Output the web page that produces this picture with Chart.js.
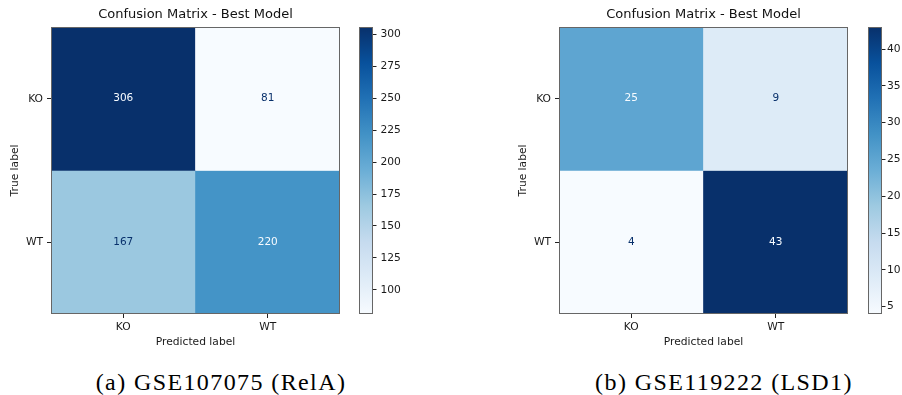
<!DOCTYPE html>
<html>
<head>
<meta charset="utf-8">
<script src="https://cdn.jsdelivr.net/npm/chart.js@4/dist/chart.umd.min.js"></script>
<style>
  body { margin: 0; background: #fff; }
  #wrap { position: relative; width: 902px; height: 395px; overflow: hidden; }
  canvas { position: absolute; top: 0; }
  .cap { position: absolute; top: 369px; font-family: "Liberation Serif", serif; font-size: 24px; letter-spacing: 1.4px; color: #000; white-space: nowrap; transform: translateX(-50%); }
</style>
</head>
<body>
<div id="wrap">
  <canvas id="cmA" width="345" height="355" style="left:0px"></canvas>
  <canvas id="cbA" width="52" height="355" style="left:355px"></canvas>
  <canvas id="cmB" width="345" height="355" style="left:508px"></canvas>
  <canvas id="cbB" width="38" height="355" style="left:864px"></canvas>
  <div class="cap" style="left:221px">(a) GSE107075 (RelA)</div>
  <div class="cap" style="left:724px">(b) GSE119222 (LSD1)</div>
</div>
<script>
// DATA
const trueLabels = ['KO', 'WT'];
const predLabels = ['KO', 'WT'];
const countsA = [[306, 81], [167, 220]];
const countsB = [[25, 9], [4, 43]];
const cbTicksA = [100, 125, 150, 175, 200, 225, 250, 275, 300];
const cbTicksB = [5, 10, 15, 20, 25, 30, 35, 40];
const panelTitle = 'Confusion Matrix - Best Model';

Chart.defaults.font.family = 'DejaVu Sans';
Chart.defaults.font.size = 10.7;
Chart.defaults.color = '#1a1a1a';

// matplotlib "Blues"
const bluesStops = ['#f7fbff', '#deebf7', '#c6dbef', '#9ecae1', '#6baed6', '#4292c6', '#2171b5', '#08519c', '#08306b'];
function hex(h) { return [1, 3, 5].map(i => parseInt(h.substr(i, 2), 16)); }
function blues(t) {
    t = Math.max(0, Math.min(1, t));
    const p = t * (bluesStops.length - 1);
    const i = Math.min(Math.floor(p), bluesStops.length - 2);
    const f = p - i;
    const a = hex(bluesStops[i]), b = hex(bluesStops[i + 1]);
    const c = a.map((v, k) => Math.round(v + (b[k] - v) * f));
    return `rgb(${c[0]},${c[1]},${c[2]})`;
}

const framePlugin = {
    id: 'frame',
    afterDatasetsDraw(chart) {
        const a = chart.chartArea, ctx = chart.ctx;
        ctx.save();
        ctx.strokeStyle = '#666';
        ctx.lineWidth = 1;
        ctx.strokeRect(a.left + 0.5, a.top + 0.5, a.right - a.left - 1, a.bottom - a.top - 1);
        ctx.restore();
    }
};

const cellText = {
    id: 'cellText',
    afterDatasetsDraw(chart) {
        const ctx = chart.ctx;
        ctx.save();
        ctx.font = '10.5px "DejaVu Sans"';
        ctx.textAlign = 'center';
        ctx.textBaseline = 'middle';
        chart.data.datasets.forEach((ds, di) => {
            chart.getDatasetMeta(di).data.forEach((bar, j) => {
                const v = ds.counts[j];
                ctx.fillStyle = v >= ds.thresh ? blues(0) : blues(1);
                ctx.fillText(String(v), bar.x, (bar.y + bar.base) / 2);
            });
        });
        ctx.restore();
    }
};

function matrixChart(id, counts) {
    const flat = counts.flat();
    const vmin = Math.min(...flat), vmax = Math.max(...flat);
    const thresh = (vmin + vmax) / 2;
    return new Chart(document.getElementById(id), {
        type: 'bar',
        data: {
            labels: predLabels,
            datasets: trueLabels.map((_, i) => ({
                data: predLabels.map(() => [i, i + 1]),
                backgroundColor: counts[i].map(v => blues((v - vmin) / (vmax - vmin))),
                counts: counts[i],
                thresh: thresh,
                grouped: false,
                categoryPercentage: 1,
                barPercentage: 1,
                borderWidth: 0
            }))
        },
        options: {
            responsive: false,
            animation: false,
            devicePixelRatio: 1,
            layout: { padding: { left: 0, right: 5, top: 0, bottom: 0 } },
            plugins: {
                legend: { display: false },
                tooltip: { enabled: false },
                title: {
                    display: true, text: panelTitle, fullSize: false,
                    font: { size: 13, weight: 'normal' }, color: '#111',
                    padding: { top: 7.2, bottom: 4.2 }
                }
            },
            scales: {
                x: {
                    offset: true,
                    grid: { offset: false, drawOnChartArea: false, tickLength: 4, tickColor: '#222' },
                    border: { display: false },
                    ticks: { padding: 3 },
                    title: { display: true, text: 'Predicted label', padding: { top: 0, bottom: 6 } },
                    afterFit(s) { s.height = 41; }
                },
                y: {
                    min: 0, max: 2, reverse: true,
                    afterBuildTicks(s) { s.ticks = trueLabels.map((_, i) => ({ value: i + 0.5 })); },
                    ticks: { padding: 4, callback: v => trueLabels[Math.floor(v)] },
                    grid: { drawOnChartArea: false, tickLength: 4, tickColor: '#222' },
                    border: { display: false },
                    title: { display: true, text: 'True label', padding: { top: 9, bottom: 0 } },
                    afterFit(s) { s.width = 51; }
                }
            }
        },
        plugins: [cellText, framePlugin]
    });
}

function colorbarChart(id, counts, tickVals, axisWidth, labelPad) {
    const flat = counts.flat();
    const vmin = Math.min(...flat), vmax = Math.max(...flat);
    return new Chart(document.getElementById(id), {
        type: 'bar',
        data: {
            labels: [''],
            datasets: [{
                data: [[vmin, vmax]],
                categoryPercentage: 1,
                barPercentage: 1,
                borderWidth: 0,
                backgroundColor(ctx) {
                    const a = ctx.chart.chartArea;
                    if (!a) return blues(0.5);
                    const g = ctx.chart.ctx.createLinearGradient(0, a.bottom, 0, a.top);
                    bluesStops.forEach((c, i) => g.addColorStop(i / (bluesStops.length - 1), c));
                    return g;
                }
            }]
        },
        options: {
            responsive: false,
            animation: false,
            devicePixelRatio: 1,
            layout: { padding: { left: 4, right: 0, top: 27, bottom: 41 } },
            plugins: { legend: { display: false }, tooltip: { enabled: false } },
            scales: {
                x: { display: false },
                y: {
                    position: 'right',
                    min: vmin, max: vmax,
                    afterBuildTicks(s) { s.ticks = tickVals.map(v => ({ value: v })); },
                    ticks: { padding: labelPad },
                    grid: { drawOnChartArea: false, tickLength: 3.5, tickColor: '#222' },
                    border: { display: false },
                    afterFit(s) { s.width = axisWidth; }
                }
            }
        },
        plugins: [framePlugin]
    });
}

matrixChart('cmA', countsA);
colorbarChart('cbA', countsA, cbTicksA, 34, 4);
matrixChart('cmB', countsB);
colorbarChart('cbB', countsB, cbTicksB, 20, 1.5);
</script>
</body>
</html>
